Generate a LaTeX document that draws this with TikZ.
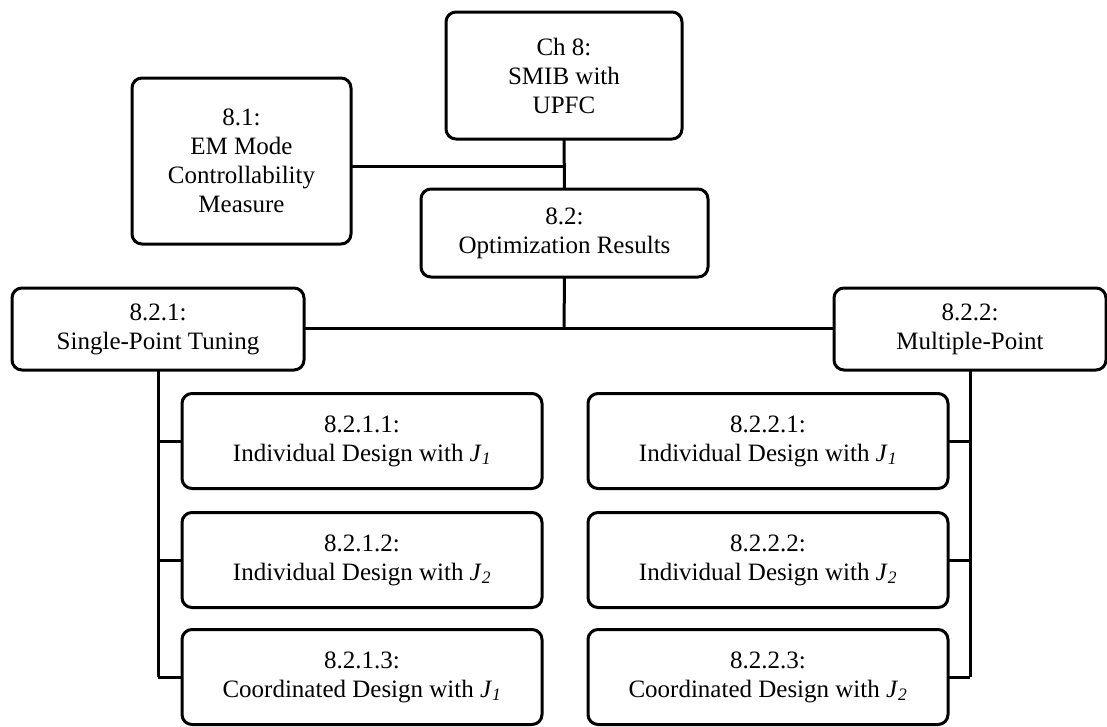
\documentclass[tikz,border=0pt]{standalone}
\usepackage{fontspec}
\setmainfont{Liberation Serif}
\begin{document}
\begin{tikzpicture}[x=1pt,y=-1pt,
  box/.style={draw=black, line width=3pt, rounded corners=10pt, inner sep=0pt, outer sep=0pt,
    align=center, font=\fontsize{25}{29}\selectfont},
  link/.style={draw=black, line width=3pt}]
\useasboundingbox (0,0) rectangle (1107,726);
\newcommand{\Jsub}[1]{\textit{J}\textsubscript{\textit{#1}}}
% top level
\node[box, minimum width=236pt, minimum height=127pt] (ch8) at (564,75.5) {Ch 8:\\SMIB with\\UPFC};
\node[box, minimum width=219pt, minimum height=166pt] (s81) at (241.5,161) {8.1:\\EM Mode\\Controllability\\Measure};
\node[box, minimum width=287pt, minimum height=88pt] (s82) at (564.5,233) {8.2:\\Optimization Results};
\node[box, minimum width=292pt, minimum height=82pt] (s821) at (158,329) {8.2.1:\\Single-Point Tuning};
\node[box, minimum width=272pt, minimum height=82pt] (s822) at (970,329) {8.2.2:\\Multiple-Point};
% left children
\node[box, minimum width=360pt, minimum height=95pt] (a1) at (362,441) {8.2.1.1:\\Individual Design with \Jsub{1}};
\node[box, minimum width=360pt, minimum height=95pt] (a2) at (362,560) {8.2.1.2:\\Individual Design with \Jsub{2}};
\node[box, minimum width=360pt, minimum height=95pt] (a3) at (362,677) {8.2.1.3:\\Coordinated Design with \Jsub{1}};
% right children
\node[box, minimum width=360pt, minimum height=95pt] (b1) at (768,441) {8.2.2.1:\\Individual Design with \Jsub{1}};
\node[box, minimum width=360pt, minimum height=95pt] (b2) at (768,560) {8.2.2.2:\\Individual Design with \Jsub{2}};
\node[box, minimum width=360pt, minimum height=95pt] (b3) at (768,677) {8.2.2.3:\\Coordinated Design with \Jsub{2}};
% junctions
\coordinate (j1) at (564,166);
\coordinate (j2) at (564,328);
\coordinate (lt) at (158,677);
\coordinate (rt) at (970,677);
% connectors
\draw[link] (ch8.south) -- (s82.north);
\draw[link] (s81.east |- j1) -- (j1);
\draw[link] (s82.south) -- (j2);
\draw[link] (s821.east |- j2) -- (s822.west |- j2);
\draw[link] (s821.south) -- (lt);
\draw[link] (a1.west -| lt) -- (a1.west);
\draw[link] (a2.west -| lt) -- (a2.west);
\draw[link] (lt) -- (a3.west);
\draw[link] (s822.south) -- (rt);
\draw[link] (b1.east -| rt) -- (b1.east);
\draw[link] (b2.east -| rt) -- (b2.east);
\draw[link] (rt) -- (b3.east);
\end{tikzpicture}
\end{document}
